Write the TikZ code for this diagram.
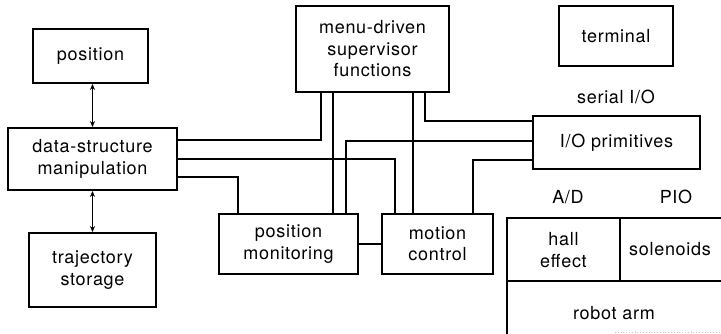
\documentclass[tikz,border=0pt]{standalone}
\usepackage{fontspec}
\setmainfont{TeX Gyre Heros}[LetterSpace=4]
\usetikzlibrary{arrows.meta}
\begin{document}
\begin{tikzpicture}[x=1pt,y=-1pt,
  every node/.style={font=\fontsize{18}{21.5}\selectfont, align=center, inner sep=0pt},
  box/.style={draw, rectangle, line width=1.9pt},
  link/.style={line width=1.9pt},
  dbl/.style={{Stealth[length=6pt,width=5pt]}-{Stealth[length=6pt,width=5pt]}, line width=1.4pt}]
\useasboundingbox (0,0) rectangle (721,334);

% left column: stored data
\node[box, minimum width=115pt, minimum height=54pt] (pos) at (90.5,56) {position};
\node[box, minimum width=169pt, minimum height=62pt] (ds) at (92.5,159) {data-structure\\manipulation};
\node[box, minimum width=127pt, minimum height=74pt] (traj) at (92.5,270) {trajectory\\storage};

% supervisor and control modules
\node[box, minimum width=153pt, minimum height=86pt] (menu) at (372.5,49) {menu-driven\\supervisor\\functions};
\node[box, minimum width=139pt, minimum height=60pt] (pm) at (288.5,244) {position\\monitoring};
\node[box, minimum width=111pt, minimum height=60pt] (mc) at (437.5,244) {motion\\control};

% terminal and I/O
\node[box, minimum width=114pt, minimum height=60pt] (term) at (616,36) {terminal};
\node (serial) at (616,97) {serial I/O};
\node[box, minimum width=167pt, minimum height=53pt] (io) at (616.5,142.5) {I/O primitives};
\node (ad) at (568,197) {A/D};
\node (pio) at (676,197) {PIO};

% robot arm block, running off the right edge
\coordinate (armTL) at (507,218);
\coordinate (armML) at (507,281);
\coordinate (armBL) at (507,334);
\draw[link] (721,218) -- (armTL) -- (armBL);
\draw[link] (armML) -- (721,281);
\draw[link] (620,218) -- (620,281);
\draw[gray!45, line width=0.8pt, dotted] (615,332) -- (721,332);
\node (hall) at (563.5,250) {hall\\effect};
\node (sol) at (670,249) {solenoids};
\node (arm) at (614,313) {robot arm};

% data exchange with the stores
\draw[dbl] (ds.north) -- (ds.north |- pos.south);
\draw[dbl] (ds.south) -- (ds.south |- traj.north);

% data-structure connections
\draw[link] (ds.east |- 0,140) -| (menu.south -| 321,0);
\draw[link] (ds.east |- 0,159) -| (mc.north -| 395,0);
\draw[link] (ds.east |- 0,177) -| (pm.north -| 238,0);

% supervisor connections
\draw[link] (menu.south -| 333,0) -- (pm.north -| 333,0);
\draw[link] (menu.south -| 413,0) -- (mc.north -| 413,0);
\draw[link] (menu.south -| 425,0) |- (io.west |- 0,121);

% I/O primitives connections
\draw[link] (io.west |- 0,141) -| (pm.north -| 346,0);
\draw[link] (io.west |- 0,160) -| (mc.north -| 473,0);

% monitoring to control
\draw[link] (pm.east) -- (mc.west);
\end{tikzpicture}
\end{document}
